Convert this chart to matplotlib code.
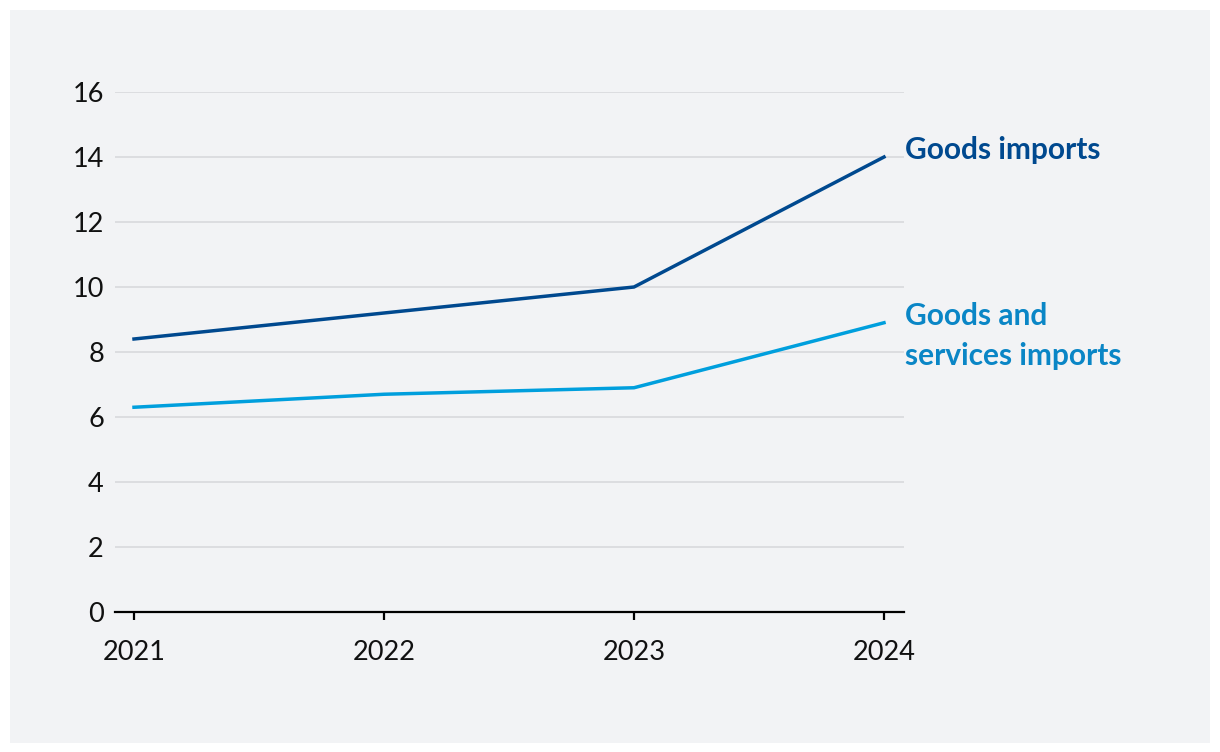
import matplotlib.pyplot as plt
import matplotlib.patches as patches

years = [2021, 2022, 2023, 2024]
goods = [8.4, 9.2, 10.0, 14.0]
goods_services = [6.3, 6.7, 6.9, 8.9]
yticks = [0, 2, 4, 6, 8, 10, 12, 14, 16]

dark_blue = "#00498f"
light_blue = "#009fdd"
light_label = "#0a86c6"

plt.rcParams['font.family'] = ['Lato', 'DejaVu Sans']

fig = plt.figure(figsize=(12.2, 7.52), dpi=100)
fig.patch.set_facecolor("white")
# grey panel behind the chart
fig.patches.append(patches.Rectangle((10 / 1220, 9 / 752), 1200 / 1220, 733 / 752,
                                     transform=fig.transFigure, facecolor="#f2f3f5",
                                     edgecolor="none", zorder=-5))

ax = fig.add_axes([115 / 1220, 140 / 752, 789 / 1220, 520 / 752])
ax.set_facecolor("none")

ax.plot(years, goods, color=dark_blue, lw=2.5, clip_on=False, zorder=3)
ax.plot(years, goods_services, color=light_blue, lw=2.5, clip_on=False, zorder=3)

ax.set_xlim(2021 - 19 / 250, 2024 + 20 / 250)
ax.set_ylim(0, 16)
ax.set_yticks(yticks)
ax.set_xticks(years)
ax.set_xticklabels([str(y) for y in years])

ax.grid(axis="y", color="#d8d9dc", lw=1.2)
ax.set_axisbelow(True)
for s in ["top", "right", "left"]:
    ax.spines[s].set_visible(False)
ax.spines["bottom"].set_color("black")
ax.spines["bottom"].set_linewidth(1.6)
ax.spines["bottom"].set_zorder(4)

ax.tick_params(axis="y", length=0, pad=8, labelsize=19.5, labelcolor="#111111")
ax.tick_params(axis="x", length=6, width=1.6, color="black", pad=14, labelsize=19.5,
               labelcolor="#111111")

ax.text(2024 + 20 / 250 + 0.003, 14.2, "Goods imports", color=dark_blue,
        fontsize=21.5, fontweight="bold", va="center", ha="left", clip_on=False)
ax.text(2024 + 20 / 250 + 0.003, 8.5, "Goods and\nservices imports",
        color=light_label, fontsize=21.5, fontweight="bold", va="center", ha="left",
        linespacing=1.5, clip_on=False)

fig.savefig("out.png", dpi=100)
